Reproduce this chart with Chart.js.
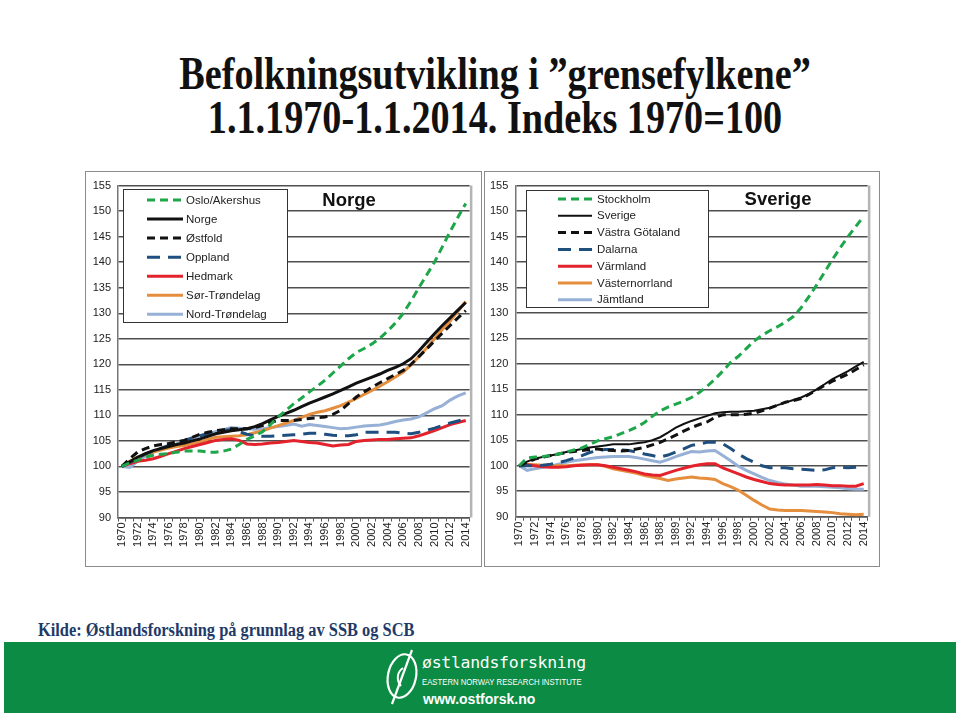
<!DOCTYPE html>
<html>
<head>
<meta charset="utf-8">
<script src="https://cdn.jsdelivr.net/npm/chart.js@4"></script>
<style>
  body { margin: 0; width: 960px; height: 716px; background: #fff; position: relative; overflow: hidden; }
  .title { position: absolute; left: 15px; width: 960px; text-align: center; font-family: "Liberation Serif", "Times New Roman", serif;
           font-weight: bold; font-size: 46px; color: #111; transform: scaleX(0.83); transform-origin: 480px 0; white-space: nowrap; }
  .panel { position: absolute; border: 1.5px solid #8c8c8c; box-sizing: border-box; }
  .source { position: absolute; left: 38px; top: 620px; font-family: "Liberation Serif", "Times New Roman", serif; font-weight: bold;
            font-size: 18px; color: #1f3a68; transform: scaleX(0.91); transform-origin: 0 0; white-space: nowrap; }
  .footer { position: absolute; left: 4px; top: 642px; width: 952px; height: 71px; background: #0b8b43; }
  .footer .logo { position: absolute; left: 378px; top: 4px; }
  .footer .name { position: absolute; left: 418px; top: 11px; font-family: "DejaVu Sans Mono", monospace; font-size: 16.5px; color: #fff; letter-spacing: -0.3px; }
  .footer .inst { position: absolute; left: 418px; top: 35px; font-family: "Liberation Sans Narrow", "Liberation Sans", Arial, sans-serif; font-size: 9px; color: #fff; transform: scaleX(0.86); transform-origin: 0 0; white-space: nowrap; }
  .footer .url { position: absolute; left: 419px; top: 49px; font-family: "Liberation Sans", Arial, sans-serif; font-weight: bold; font-size: 14px; color: #fff; }
</style>
</head>
<body>
<div class="title" style="top: 47px;">Befolkningsutvikling i ”grensefylkene”</div>
<div class="title" style="top: 91px;">1.1.1970-1.1.2014. Indeks 1970=100</div>

<div class="panel" style="left: 85px; top: 171px; width: 397px; height: 396px;"></div>
<div class="panel" style="left: 484px; top: 171px; width: 396px; height: 396px;"></div>
<div style="position: absolute; left: 86px; top: 172px; width: 394px; height: 392px;"><canvas id="norge-chart"></canvas></div>
<div style="position: absolute; left: 485px; top: 172px; width: 393px; height: 392px;"><canvas id="sverige-chart"></canvas></div>

<div class="source">Kilde: Østlandsforskning på grunnlag av SSB og SCB</div>

<div class="footer">
  <svg class="logo" width="40" height="62" viewBox="0 0 40 62">
    <ellipse cx="20" cy="30" rx="14" ry="22" fill="none" stroke="#fff" stroke-width="2.2" transform="rotate(12 20 30)"/>
    <path d="M30 4 L10 58" stroke="#fff" stroke-width="2.2" fill="none"/>
    <path d="M21 22 C 15 26, 14 34, 19 40" stroke="#fff" stroke-width="2" fill="none"/>
  </svg>
  <div class="name">østlandsforskning</div>
  <div class="inst">EASTERN NORWAY RESEARCH INSTITUTE</div>
  <div class="url">www.ostforsk.no</div>
</div>

<script>
/* ------------------------------------------------
   Data (index 1970 = 100)
------------------------------------------------- */
const years = [1970, 1971, 1972, 1973, 1974, 1975, 1976, 1977, 1978, 1979, 1980, 1981, 1982, 1983, 1984,
  1985, 1986, 1987, 1988, 1989, 1990, 1991, 1992, 1993, 1994, 1995, 1996, 1997, 1998, 1999,
  2000, 2001, 2002, 2003, 2004, 2005, 2006, 2007, 2008, 2009, 2010, 2011, 2012, 2013, 2014];

// tick labels, every second year (the Swedish panel has "1989" where 1990 belongs)
const norgeTicks = ["1970", "1972", "1974", "1976", "1978", "1980", "1982", "1984", "1986", "1988", "1990", "1992",
  "1994", "1996", "1998", "2000", "2002", "2004", "2006", "2008", "2010", "2012", "2014"];
const sverigeTicks = ["1970", "1972", "1974", "1976", "1978", "1980", "1982", "1984", "1986", "1988", "1989", "1992",
  "1994", "1996", "1998", "2000", "2002", "2004", "2006", "2008", "2010", "2012", "2014"];

// Norge panel
const osloAkershus = [100, 100.7, 101.2, 101.8, 102.2, 102.4, 102.5, 102.8, 103, 103, 103, 102.8, 102.8, 103, 103.4,
  104.3, 105.3, 106, 106.8, 108.2, 109.7, 111, 112.3, 113.4, 114.6, 115.7, 116.9, 118.3, 119.7, 121.1,
  122.3, 123.1, 124, 125.1, 126.5, 128.1, 130, 132.4, 135, 137.5, 140, 143, 146, 148.8, 151.5];
const norge = [100, 100.9, 101.8, 102.5, 103.1, 103.5, 103.9, 104.3, 104.6, 105, 105.4, 105.9, 106.4, 106.7, 107,
  107.2, 107.4, 107.8, 108.4, 109.1, 109.8, 110.4, 111, 111.7, 112.4, 113, 113.6, 114.2, 114.9, 115.6,
  116.3, 116.9, 117.5, 118.1, 118.8, 119.4, 120.1, 121.1, 122.6, 124.3, 126, 127.6, 129.1, 130.6, 132.1];
const ostfold = [100, 101.5, 102.8, 103.5, 104, 104.3, 104.5, 104.8, 105.1, 105.7, 106.3, 106.7, 107, 107.2, 107.4,
  107.4, 107.4, 107.6, 108, 108.6, 109, 109, 109, 109.2, 109.4, 109.5, 109.7, 110.2, 111, 112.3,
  113.6, 114.6, 115.5, 116.4, 117.2, 118, 118.8, 120, 121.5, 123, 124.6, 126.1, 127.6, 129.1, 130.5];
const oppland = [100, 100.8, 101.6, 102.4, 103, 103.6, 104.1, 104.6, 105.1, 105.6, 106, 106.4, 106.8, 107.1, 107.2,
  106.8, 106.3, 106, 105.9, 105.9, 106, 106.1, 106.2, 106.3, 106.5, 106.5, 106.3, 106.1, 106, 106,
  106.2, 106.7, 106.7, 106.7, 106.7, 106.7, 106.5, 106.4, 106.7, 107.1, 107.5, 108, 108.5, 108.9, 109.3];
const hedmark = [100, 100.5, 101, 101.2, 101.5, 102, 102.5, 103, 103.5, 103.9, 104.3, 104.7, 105.1, 105.3, 105.4,
  105.1, 104.4, 104.3, 104.4, 104.6, 104.7, 104.9, 105.1, 104.9, 104.7, 104.6, 104.3, 104, 104.2, 104.3,
  104.9, 105.1, 105.2, 105.3, 105.3, 105.4, 105.5, 105.6, 106, 106.5, 107, 107.6, 108.2, 108.6, 109];
const sorTrondelag = [100, 101, 101.8, 102.3, 102.8, 103.2, 103.6, 103.9, 104.1, 104.5, 104.8, 105.3, 105.7, 105.8, 105.9,
  106, 106.2, 106.6, 107, 107.5, 108, 108.5, 109, 109.6, 110.2, 110.6, 110.9, 111.4, 111.9, 112.6,
  113.3, 114.1, 114.9, 115.7, 116.6, 117.5, 118.5, 119.9, 121.5, 123.2, 125, 126.8, 128.5, 130.4, 132.3];
const nordTrondelag = [100, 99.8, 101, 102, 102.8, 103.3, 103.8, 104.4, 105, 105.5, 106, 106.4, 106.8, 107.2, 107.6,
  107.5, 107.4, 107.3, 107.4, 107.6, 107.8, 108, 108.3, 107.9, 108.2, 108, 107.8, 107.6, 107.4, 107.5,
  107.7, 107.9, 108, 108.1, 108.4, 108.8, 109.1, 109.3, 109.7, 110.5, 111.3, 111.9, 113, 113.8, 114.4];

// Sverige panel
const stockholm = [100, 101.5, 101.7, 101.8, 102, 102.3, 102.7, 103.1, 103.5, 104.2, 104.9, 105.3, 105.7, 106.3, 106.9,
  107.6, 108.5, 109.7, 110.8, 111.5, 112.1, 112.7, 113.4, 114.4, 115.6, 117, 118.6, 120.3, 121.5, 123,
  124.5, 125.6, 126.5, 127.3, 128.2, 129.3, 131, 133.2, 135.5, 138, 140.5, 142.8, 145, 147, 149];
const sverige = [100, 100.8, 101.4, 101.7, 102, 102.3, 102.7, 103, 103.3, 103.6, 103.8, 104, 104.2, 104.2, 104.2,
  104.4, 104.6, 105, 105.6, 106.5, 107.5, 108.2, 108.8, 109.3, 109.8, 110.3, 110.5, 110.6, 110.6, 110.7,
  110.8, 111.1, 111.4, 111.9, 112.4, 112.9, 113.4, 114.1, 115, 116, 117, 117.8, 118.6, 119.5, 120.4];
const vastraGotaland = [100, 100.7, 101.3, 101.7, 102, 102.3, 102.6, 102.8, 103, 103.2, 103.3, 103.1, 103, 102.9, 103,
  103.3, 103.6, 104.1, 104.6, 105.3, 106, 106.8, 107.5, 108.1, 108.6, 109.5, 110, 110, 110, 110.1,
  110.3, 110.8, 111.3, 111.9, 112.5, 112.8, 113.2, 114, 114.9, 115.8, 116.6, 117.3, 118, 118.9, 119.8];
const dalarna = [100, 100, 100, 100.1, 100.3, 100.6, 101, 101.5, 102, 102.6, 103, 103.2, 103.2, 103.1, 103,
  102.7, 102.3, 102, 101.7, 102.1, 102.7, 103.3, 104, 104.3, 104.6, 104.6, 104.3, 103.4, 102.3, 101.4,
  100.7, 100, 99.6, 99.6, 99.6, 99.4, 99.3, 99.2, 99.1, 99.2, 99.6, 99.7, 99.6, 99.7, 99.9];
const varmland = [100, 100.2, 100, 99.8, 99.7, 99.7, 99.8, 100, 100.1, 100.2, 100.2, 100, 99.7, 99.4, 99.1,
  98.8, 98.4, 98.2, 98.1, 98.6, 99.1, 99.5, 99.9, 100.2, 100.4, 100.4, 99.6, 99, 98.4, 97.8,
  97.3, 96.9, 96.5, 96.3, 96.2, 96.2, 96.2, 96.2, 96.3, 96.2, 96.1, 96.1, 96, 96, 96.5];
const vasternorrland = [100, 100.3, 100.2, 100.1, 100, 100, 100, 100.1, 100.2, 100.2, 100.2, 99.9, 99.4, 99.1, 98.8,
  98.5, 98.1, 97.8, 97.5, 97.1, 97.4, 97.6, 97.8, 97.6, 97.5, 97.3, 96.5, 95.9, 95.2, 94.2,
  93.2, 92.3, 91.5, 91.3, 91.2, 91.2, 91.2, 91.1, 91, 90.9, 90.8, 90.6, 90.5, 90.4, 90.5];
const jamtland = [100, 99.1, 99.4, 99.7, 99.9, 100.3, 100.7, 101, 101.2, 101.4, 101.6, 101.7, 101.8, 101.8, 101.8,
  101.6, 101.3, 101, 100.7, 101.2, 101.8, 102.3, 102.8, 102.7, 102.9, 103, 102, 101, 99.9, 99.1,
  98.4, 97.7, 97.1, 96.7, 96.4, 96.2, 96, 96, 96, 95.9, 95.8, 95.7, 95.5, 95.4, 95.4];

/* ------------------------------------------------
   Series styles
------------------------------------------------- */
const GREEN = "#1ea64b";
const BLACK = "#111111";
const NAVY = "#1f4f7e";
const RED = "#e3222b";
const ORANGE = "#e58e3e";
const LIGHTBLUE = "#97b0d6";

function series(label, data, color, dash, width) {
  return {
    label,
    data,
    borderColor: color,
    backgroundColor: color,
    borderWidth: width || 3,
    borderDash: dash || [],
    pointRadius: 0,
    tension: 0,
    fill: false
  };
}

const shortDash = [8, 5];
const longDash = [13, 8];

/* ------------------------------------------------
   Plugin: framed legend + panel title inside plot
------------------------------------------------- */
const panelDecor = {
  id: "panelDecor",
  afterDraw(chart, args, opts) {
    const ctx = chart.ctx;
    const area = chart.chartArea;
    ctx.save();

    // right edge of plot area
    ctx.strokeStyle = "#b4b4b4";
    ctx.lineWidth = 2.5;
    ctx.beginPath();
    ctx.moveTo(area.right + 1.5, area.top);
    ctx.lineTo(area.right + 1.5, area.bottom);
    ctx.stroke();

    // legend box
    const b = opts.box;
    ctx.fillStyle = "#fff";
    ctx.fillRect(b.x, b.y, b.w, b.h);
    ctx.strokeStyle = "#333";
    ctx.lineWidth = 1;
    ctx.strokeRect(b.x + 0.5, b.y + 0.5, b.w, b.h);

    ctx.font = "11.5px 'Liberation Sans', Arial, sans-serif";
    ctx.textBaseline = "middle";
    chart.data.datasets.forEach((ds, i) => {
      const y = b.rowY + i * b.rowStep;
      ctx.strokeStyle = ds.borderColor;
      ctx.lineWidth = ds.borderWidth;
      ctx.setLineDash(ds.borderDash);
      ctx.beginPath();
      ctx.moveTo(b.lineX0, y);
      ctx.lineTo(b.lineX1, y);
      ctx.stroke();
      ctx.setLineDash([]);
      ctx.fillStyle = "#222";
      ctx.fillText(ds.label, b.textX, y + 0.5);
    });

    // panel heading
    ctx.font = "bold 18.5px 'Liberation Sans', Arial, sans-serif";
    ctx.fillStyle = "#111";
    ctx.textAlign = "center";
    ctx.fillText(opts.heading, opts.headingX, opts.headingY);
    ctx.restore();
  }
};

/* ------------------------------------------------
   Build one panel
------------------------------------------------- */
function makePanel(canvasId, datasets, tickLabels, layout, decor) {
  const ctx = document.getElementById(canvasId);
  return new Chart(ctx, {
    type: "line",
    data: { labels: years, datasets },
    plugins: [panelDecor],
    options: {
      responsive: true,
      maintainAspectRatio: false,
      animation: false,
      layout: { padding: { top: layout.top, right: layout.right, left: 0, bottom: 0 } },
      plugins: {
        legend: { display: false },
        tooltip: { enabled: false },
        panelDecor: decor
      },
      scales: {
        x: {
          offset: true,
          grid: { display: true, drawOnChartArea: false, offset: true, color: "#555", tickLength: 4, lineWidth: 1 },
          border: { display: true, color: "#555", width: 1.5 },
          ticks: {
            autoSkip: false,
            minRotation: 90,
            maxRotation: 90,
            padding: 1,
            color: "#222",
            font: { family: "'Liberation Sans', Arial, sans-serif", size: 11 },
            callback: (v, i) => (i % 2 === 0 ? tickLabels[i / 2] : "")
          },
          afterFit: s => { s.height = layout.xHeight; }
        },
        y: {
          min: 90,
          max: 155,
          ticks: {
            stepSize: 5,
            padding: 7,
            color: "#222",
            font: { family: "'Liberation Sans', Arial, sans-serif", size: 11 }
          },
          grid: { color: "#4f4f4f", lineWidth: 1.5, drawTicks: false },
          border: { display: true, color: "#777", width: 1.5 },
          afterFit: s => { s.width = layout.yWidth; }
        }
      }
    }
  });
}

makePanel("norge-chart", [
  series("Oslo/Akershus", osloAkershus, GREEN, shortDash),
  series("Norge", norge, BLACK),
  series("Østfold", ostfold, BLACK, shortDash),
  series("Oppland", oppland, NAVY, longDash),
  series("Hedmark", hedmark, RED),
  series("Sør-Trøndelag", sorTrondelag, ORANGE),
  series("Nord-Trøndelag", nordTrondelag, LIGHTBLUE)
], norgeTicks,
  { top: 12, right: 5, yWidth: 32, xHeight: 46.5 },
  {
    box: { x: 37, y: 17, w: 164, h: 133, rowY: 28, rowStep: 19.05, lineX0: 61, lineX1: 97, textX: 100 },
    heading: "Norge", headingX: 263, headingY: 29
  });

makePanel("sverige-chart", [
  series("Stockholm", stockholm, GREEN, shortDash),
  series("Sverige", sverige, BLACK, [], 2),
  series("Västra Götaland", vastraGotaland, BLACK, shortDash),
  series("Dalarna", dalarna, NAVY, longDash),
  series("Värmland", varmland, RED),
  series("Västernorrland", vasternorrland, ORANGE),
  series("Jämtland", jamtland, LIGHTBLUE)
], sverigeTicks,
  { top: 10.3, right: 7, yWidth: 30.3, xHeight: 47.3 },
  {
    box: { x: 41, y: 18, w: 182, h: 117, rowY: 27, rowStep: 16.8, lineX0: 73, lineX1: 107, textX: 112 },
    heading: "Sverige", headingX: 293, headingY: 28
  });
</script>
</body>
</html>
